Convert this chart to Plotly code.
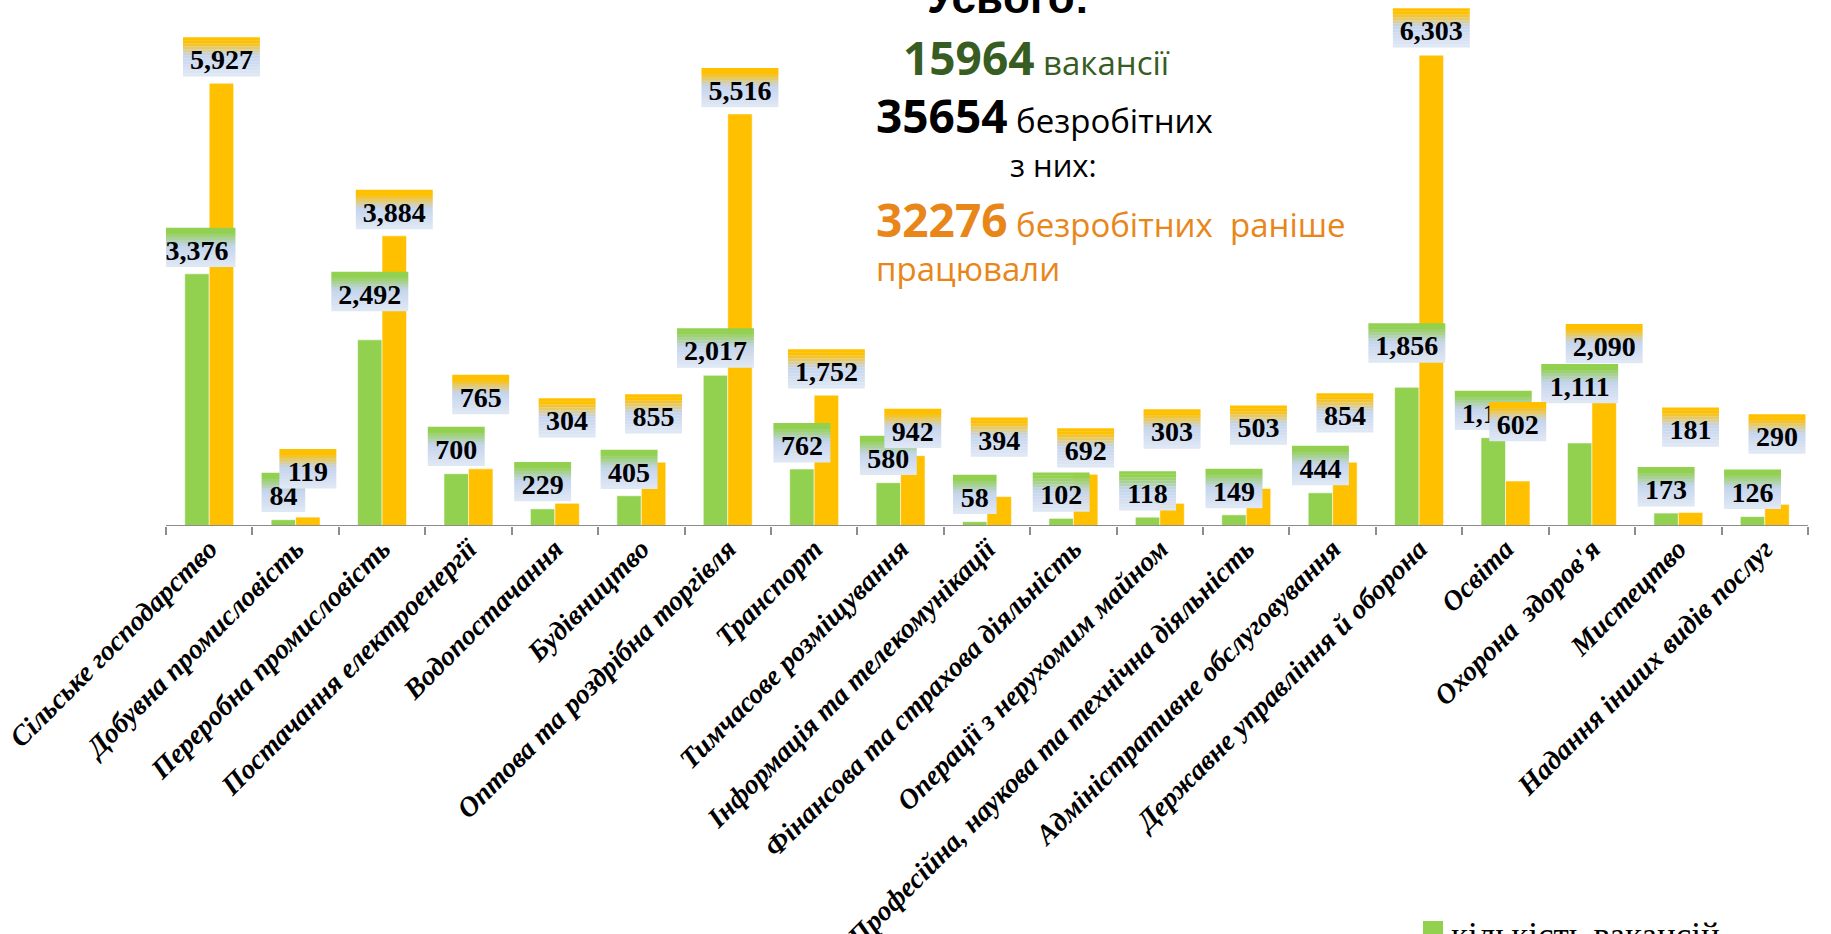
import plotly.graph_objects as go

# ---------------- data ----------------
categories = [
    "Сільське господарство", "Добувна промисловість", "Переробна промисловість",
    "Постачання електроенергії", "Водопостачання", "Будівництво",
    "Оптова та роздрібна торгівля", "Транспорт", "Тимчасове розміщування",
    "Інформація та телекомунікації", "Фінансова та страхова діяльність",
    "Операції з нерухомим майном", "Професійна, наукова та технічна діяльність",
    "Адміністративне обслуговування", "Державне управління й оборона",
    "Освіта", "Охорона  здоров'я", "Мистецтво", "Надання інших видів послуг",
]
vacancies = [3376, 84, 2492, 700, 229, 405, 2017, 762, 580, 58, 102, 118, 149, 444, 1856, 1182, 1111, 173, 126]
unemployed = [5927, 119, 3884, 765, 304, 855, 5516, 1752, 942, 394, 692, 303, 503, 854, 6303, 602, 2090, 181, 290]
series_names = ["кількість вакансій", "кількість безробітних, які раніше працювали"]

total_vacancies = 15964
total_unemployed = 35654
total_worked_before = 32276

# ---------------- styling / layout config (not data) ----------------
W, H = 1831, 934
ML, MT = 166, 0
PLOT_BOTTOM = 526
PX_PER_CAT = 86.42
PX_PER_UNIT = 0.0747
GREEN = "#92D050"
ORANGE = "#FFC000"
BARGAP = 0.434
HALF = (1 - BARGAP) / 4  # centre offset of each bar in category units

# pixel gaps between bar top and its label box (labels were hand-placed)
gap_green = [7, 8, 29, 8, 8, 7, 8, 7, 8, 8, 7, 7, 7, 8, 25, 8, 40, 7, 8]
gap_orange = [7, 29, 7, 55, 66, 29, 7, 7, 8, 40, 7, 55, 44, 30, 8, 40, 7, 66, 51]
BOX_H = 39
N_BANDS = 13

plot_w = W - ML  # plot area extends to the right edge so labels are not clipped
plot_h = PLOT_BOTTOM - MT
x_range = [-0.5, -0.5 + plot_w / PX_PER_CAT]
y_max = plot_h / PX_PER_UNIT


def hex2rgb(h):
    h = h.lstrip("#")
    return tuple(int(h[i:i + 2], 16) for i in (0, 2, 4))


def mix(c1, c2, t):
    a, b = hex2rgb(c1), hex2rgb(c2)
    return "rgb(%d,%d,%d)" % tuple(round(a[k] + (b[k] - a[k]) * t) for k in range(3))


def grad(top, t):
    stops = [(0.0, top), (0.12, top), (0.47, "#C6D5EE"), (1.0, "#E0E8F5")]
    for (t0, c0), (t1, c1) in zip(stops[:-1], stops[1:]):
        if t <= t1:
            return mix(c0, c1, 0 if t1 == t0 else (t - t0) / (t1 - t0))
    return stops[-1][1]


def box_width(txt):
    n_d = sum(ch.isdigit() for ch in txt)
    n_c = txt.count(",")
    return 13.3 * n_d + 6.7 * n_c + 17


fig = go.Figure()
fig.add_trace(go.Bar(x=categories, y=vacancies, name=series_names[0], showlegend=False,
                     marker=dict(color=GREEN, line=dict(color="rgba(255,255,255,0.55)", width=1))))
fig.add_trace(go.Bar(x=categories, y=unemployed, name=series_names[1], showlegend=False,
                     marker=dict(color=ORANGE, line=dict(color="rgba(255,255,255,0.55)", width=1))))

shapes = []


def add_label_boxes(values, gaps, top_color, sign):
    for i, (v, g) in enumerate(zip(values, gaps)):
        txt = f"{v:,}"
        w = box_width(txt)
        xa = i + sign * HALF
        band_h = BOX_H / N_BANDS
        for j in range(N_BANDS):
            t = (j + 0.5) / N_BANDS
            shapes.append(dict(
                type="rect", xref="x", yref="y", xsizemode="pixel", ysizemode="pixel",
                xanchor=xa, yanchor=v, x0=-w / 2, x1=w / 2,
                y0=g + BOX_H - (j + 1) * band_h - 0.3, y1=g + BOX_H - j * band_h,
                fillcolor=grad(top_color, t), line=dict(width=0), layer="above"))
        # transparent carrier of the value text (same box, in axis units)
        dx = w / 2 / PX_PER_CAT
        shapes.append(dict(
            type="rect", xref="x", yref="y",
            x0=xa - dx, x1=xa + dx,
            y0=v + g / PX_PER_UNIT, y1=v + (g + BOX_H) / PX_PER_UNIT,
            fillcolor="rgba(0,0,0,0)", line=dict(width=0), layer="above",
            label=dict(text=f"<b>{txt}</b>", textposition="middle center", padding=0,
                       font=dict(family="Liberation Serif", size=28, color="black"))))


add_label_boxes(vacancies, gap_green, GREEN, -1)
add_label_boxes(unemployed, gap_orange, ORANGE, +1)

# baseline (category axis line)
shapes.append(dict(type="line", xref="x", yref="y", x0=-0.5, x1=len(categories) - 0.5, y0=0, y1=0,
                   line=dict(color="#8C8C8C", width=2), layer="above"))


def px_x(px):
    return (px - ML) / plot_w


def px_y(py):
    return (PLOT_BOTTOM - py) / plot_h


# legend (bottom-right, partly outside the picture as in the original)
shapes.append(dict(type="rect", xref="paper", yref="paper",
                   x0=px_x(1423), x1=px_x(1443), y0=px_y(941), y1=px_y(921),
                   fillcolor=GREEN, line=dict(width=0)))

SANS = "Open Sans"
annotations = [
    dict(text="<b>Усього:</b>", x=px_x(1008), y=px_y(24), xanchor="center", yanchor="bottom",
         font=dict(family="Liberation Sans", size=44, color="black")),
    dict(text=f"<span style='font-size:46px'><b>{total_vacancies}</b></span> вакансії",
         x=px_x(901), y=px_y(90), xanchor="left", yanchor="bottom",
         font=dict(family=SANS, size=33, color="#385D22")),
    dict(text=f"<span style='font-size:46px'><b>{total_unemployed}</b></span> безробітних",
         x=px_x(874), y=px_y(148), xanchor="left", yanchor="bottom",
         font=dict(family=SANS, size=33, color="black")),
    dict(text="з них:", x=px_x(1008), y=px_y(188), xanchor="left", yanchor="bottom",
         font=dict(family=SANS, size=31, color="black")),
    dict(text=f"<span style='font-size:46px'><b>{total_worked_before}</b></span> безробітних\u00a0\u00a0раніше",
         x=px_x(874), y=px_y(252), xanchor="left", yanchor="bottom",
         font=dict(family=SANS, size=33, color="#E8861A")),
    dict(text="працювали", x=px_x(874), y=px_y(293), xanchor="left", yanchor="bottom",
         font=dict(family=SANS, size=33, color="#E8861A")),
    dict(text=series_names[0], x=px_x(1449), y=px_y(935), xanchor="left", yanchor="middle",
         font=dict(family="Liberation Serif", size=35, color="black")),
]
for a in annotations:
    a.update(xref="paper", yref="paper", showarrow=False)

fig.update_layout(
    width=W, height=H,
    margin=dict(l=ML, r=0, t=MT, b=H - PLOT_BOTTOM, autoexpand=False),
    paper_bgcolor="white", plot_bgcolor="white",
    barmode="group", bargap=BARGAP, bargroupgap=0,
    showlegend=False,
    xaxis=dict(type="category", range=x_range, showline=False, showgrid=False, zeroline=False,
               ticks="outside", tickson="boundaries", ticklen=8, tickwidth=2, tickcolor="#8C8C8C",
               tickangle=-45,
               tickmode="array", tickvals=categories,
               ticktext=[f"<b><i>{c}</i></b>" for c in categories],
               tickfont=dict(family="Liberation Serif", size=28, color="black")),
    yaxis=dict(range=[0, y_max], visible=False, showgrid=False, zeroline=False, fixedrange=True),
    shapes=shapes,
    annotations=annotations,
)

fig.write_html("out.html", config={"displayModeBar": False},
               post_script="document.body.style.margin='0px';")
